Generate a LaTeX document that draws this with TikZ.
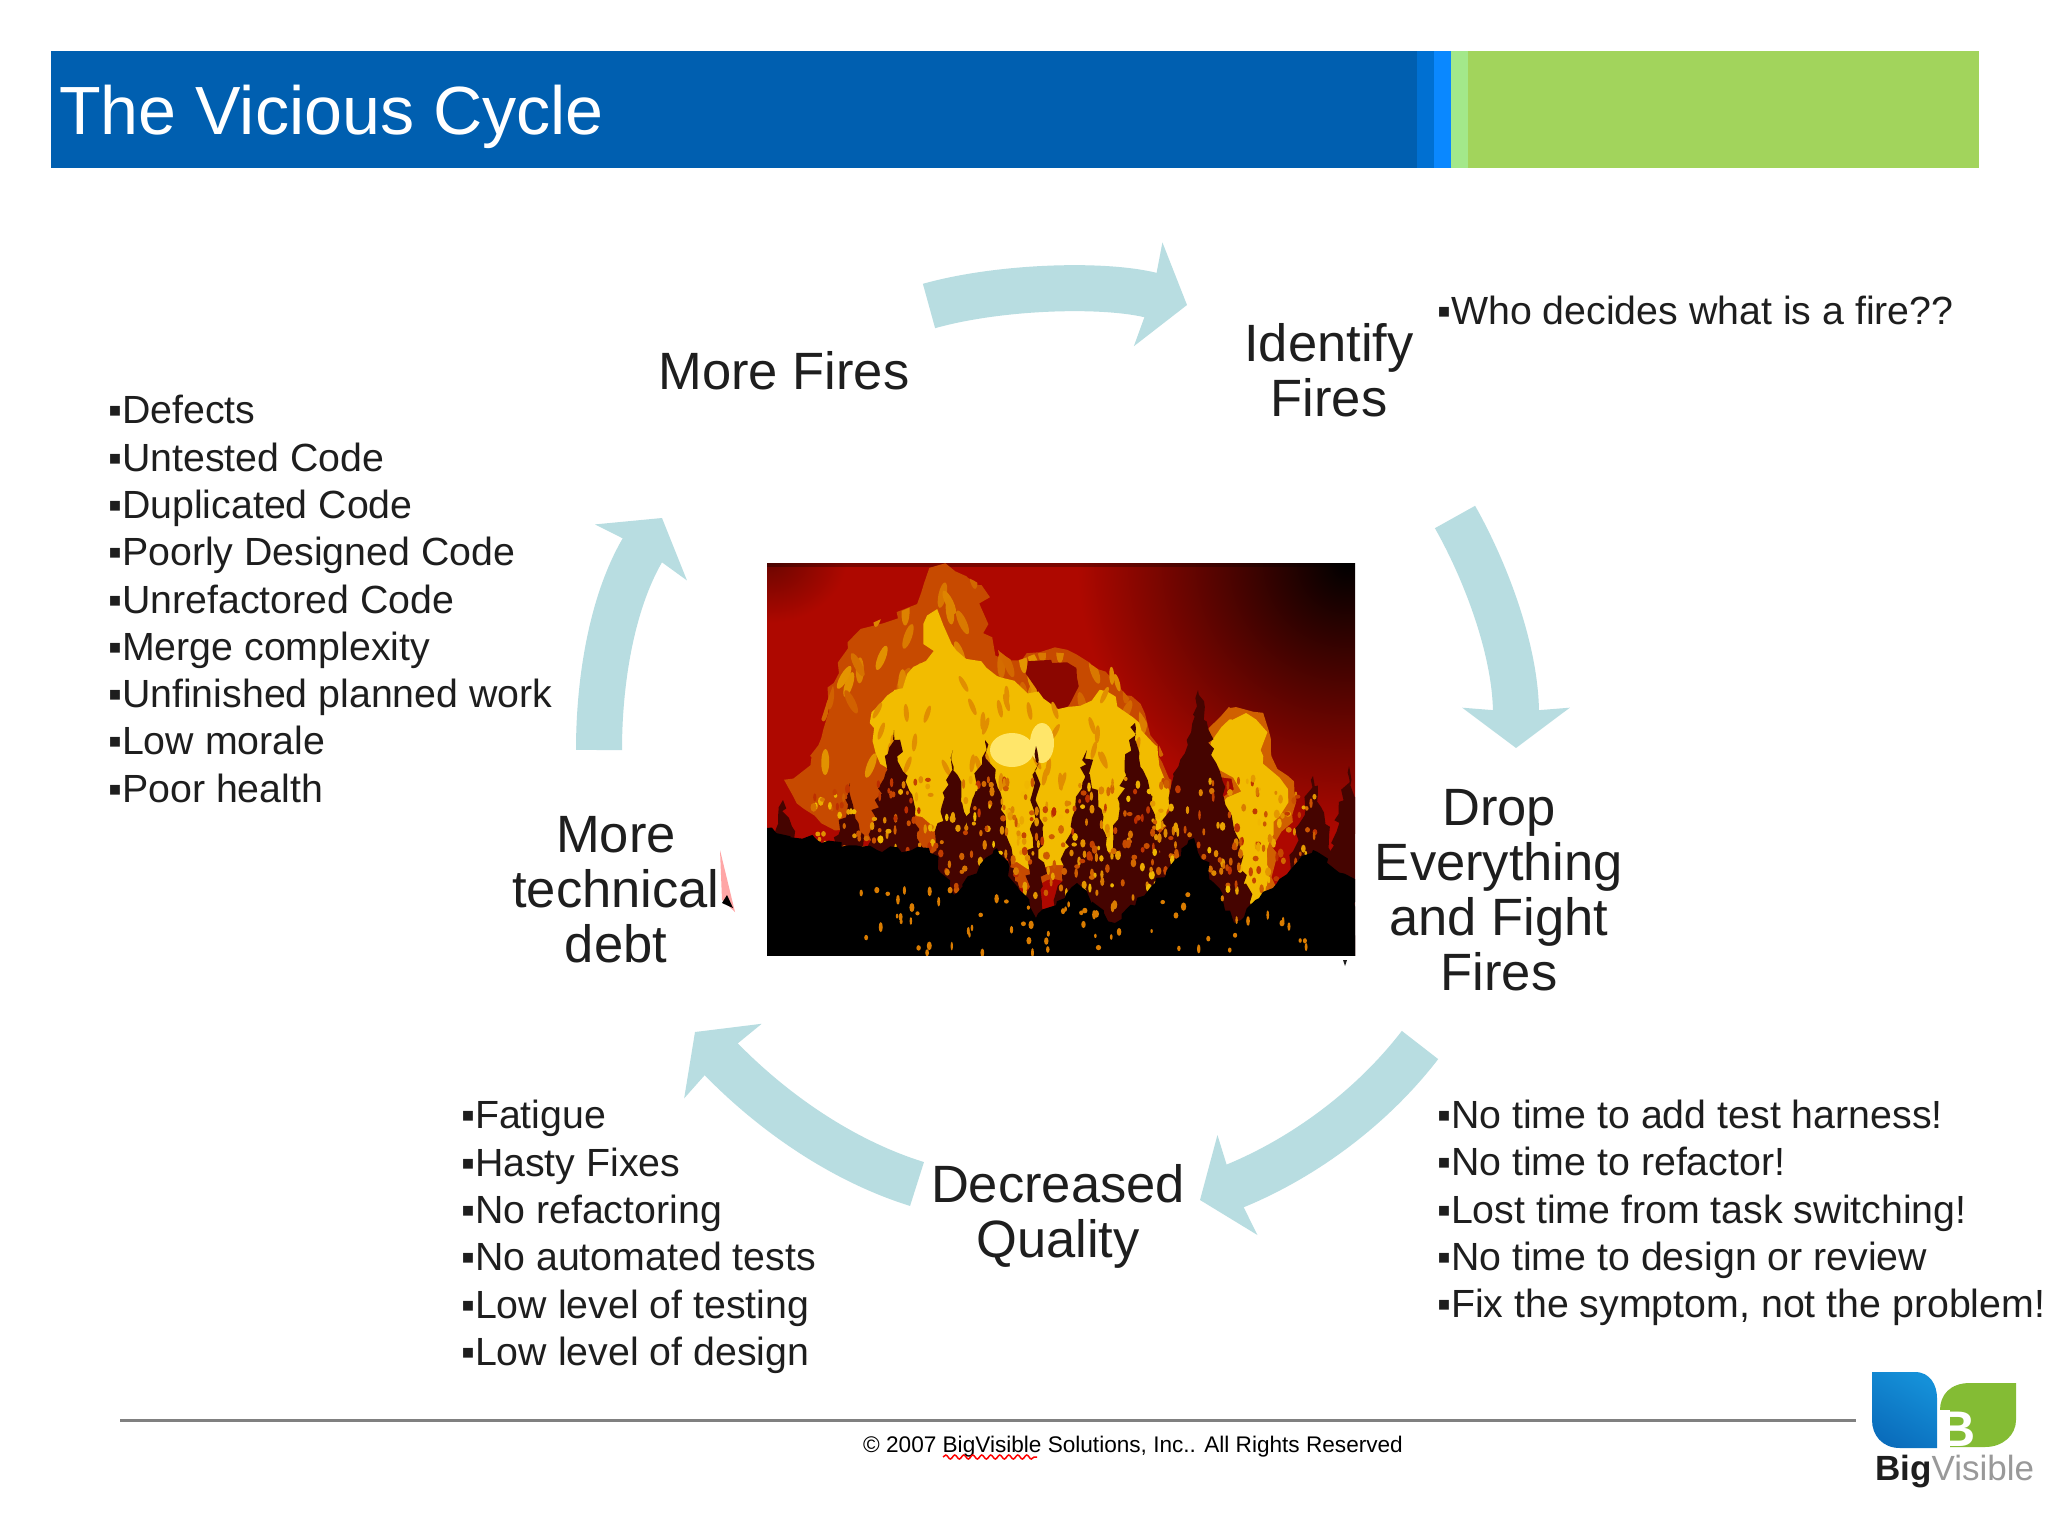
\documentclass[tikz,border=0pt]{standalone}
\usepackage{fontspec}
\setmainfont{Liberation Sans}
\usetikzlibrary{arrows.meta,decorations.pathmorphing,shapes.geometric}
\definecolor{barblue}{HTML}{005FB0}
\definecolor{barmid}{HTML}{0070D2}
\definecolor{barbright}{HTML}{0A88FF}
\definecolor{barpale}{HTML}{A3E88A}
\definecolor{bargreen}{HTML}{A2D45C}
\definecolor{cycleteal}{HTML}{B8DDE1}
\definecolor{inktext}{HTML}{1E1E1E}
\definecolor{firered}{HTML}{AE0800}
\definecolor{fireorange}{HTML}{D06000}
\definecolor{fireyellow}{HTML}{F2BC00}
\definecolor{firepale}{HTML}{FFE66A}
\definecolor{treedark}{HTML}{450400}
\definecolor{leafblue}{HTML}{1590D8}
\definecolor{leafdeep}{HTML}{0A6DBC}
\definecolor{leafgreen}{HTML}{84BC34}
\tikzset{
        cyclelabel/.style={align=center,text=inktext,font=\fontsize{52.5}{55}\selectfont},
        bulletlist/.style={anchor=west,align=left,text=inktext,font=\fontsize{39.3}{47.3}\selectfont},
        cyclearrow/.style={draw=cycleteal,line width=46pt,-{Stealth[length=40pt,width=106pt,inset=4pt]}},
        jagged/.style={decorate,decoration={random steps,segment length=7pt,amplitude=4pt}},
        wispy/.style={decorate,decoration={random steps,segment length=11pt,amplitude=6pt}},
}
\begin{document}
\begin{tikzpicture}[x=1pt,y=-1pt]
        \tikzstyle{every node}+=[inner sep=0pt]
        \useasboundingbox (0,0) rectangle (2048,1536);
        \fill [white] (0,0) rectangle (2048,1536);
        \fill [barblue] (51,51) rectangle (1417,168);
        \fill [barmid] (1417,51) rectangle (1434,168);
        \fill [barbright] (1434,51) rectangle (1451,168);
        \fill [barpale] (1451,51) rectangle (1468,168);
        \fill [bargreen] (1468,51) rectangle (1979,168);
        \node (title) [anchor=west,text=white,font=\fontsize{68.2}{70}\selectfont] at (59,117) {The Vicious Cycle};
        \begin{scope}[shift={(767,563)}]
                \clip (0,0) rectangle (588,392);
                \fill [firered] (0,0) rectangle (588,392);
                \shade [inner color=black,outer color=firered] (310,-270) rectangle (850,270);
                \shade [inner color=firered!60!black,outer color=firered] (-80,-70) rectangle (80,60);
                \fill [black,opacity=.3] (0,0) rectangle (588,4);
                \pgfmathsetseed{2007}
                \fill [fireorange!75!firered,wispy] plot [smooth cycle] coordinates {(30,240) (43,193) (67,120) (95,67) (150,40) (166,7) (214,23) (218,70) (245,97) (273,90) (309,93) (348,120) (380,160) (404,217) (400,300) (200,320)};
                \begin{scope}
                        \clip plot [smooth cycle] coordinates {(30,240) (43,193) (67,120) (95,67) (150,40) (166,7) (214,23) (218,70) (245,97) (273,90) (309,93) (348,120) (380,160) (404,217) (400,300) (200,320)};
                        \foreach \i in {1,...,110} {
                                \pgfmathsetmacro{\sx}{30+rnd*370}
                                \pgfmathsetmacro{\sy}{10+rnd*200}
                                \pgfmathsetmacro{\sa}{60+rnd*60}
                                \pgfmathsetmacro{\sm}{rnd*60}
                                \fill [fireyellow!\sm!fireorange,rotate around={\sa:(\sx,\sy)}] (\sx,\sy) ellipse (13 and 4);
                        }
                \end{scope}
                \fill [firered!80!black,wispy] plot [smooth cycle] coordinates {(261,110) (285,100) (309,115) (300,140) (278,143)};
                \fill [fireyellow,wispy] plot [smooth cycle] coordinates {(103,160) (127,127) (158,97) (162,53) (190,87) (230,113) (261,130) (301,143) (340,130) (372,160) (392,203) (400,240) (368,287) (230,303) (150,253)};
                \begin{scope}
                        \clip (90,90) rectangle (400,260);
                        \foreach \i in {1,...,40} {
                                \pgfmathsetmacro{\sx}{110+rnd*270}
                                \pgfmathsetmacro{\sy}{110+rnd*110}
                                \pgfmathsetmacro{\sa}{60+rnd*60}
                                \fill [fireorange!50!fireyellow,rotate around={\sa:(\sx,\sy)}] (\sx,\sy) ellipse (9 and 2.5);
                        }
                \end{scope}
                \fill [fireorange,wispy] plot [smooth cycle] coordinates {(435,180) (463,145) (495,152) (505,193) (520,213) (528,240) (510,290) (500,350) (462,360) (445,250) (465,225) (440,200)};
                \fill [fireyellow,wispy] plot [smooth cycle] coordinates {(447,178) (465,157) (488,160) (497,193) (512,215) (518,240) (500,287) (492,340) (468,345) (456,253) (472,227) (450,200)};
                \fill [firepale] (245,187) ellipse (22 and 17);
                \fill [firepale] (275,180) ellipse (12 and 20);
                \foreach \tx/\ty/\tw in {16/237/45,83/220/40,127/167/55,186/187/40,218/177/50,269/183/12,320/187/45,368/160/45,431/127/70,546/213/50,582/203/40}
                        \fill [treedark,jagged] (\tx,\ty) -- (\tx+\tw,400) -- (\tx-\tw,400) -- cycle;
                \foreach \i in {1,...,480} {
                        \pgfmathsetmacro{\sx}{40+rnd*510}
                        \pgfmathsetmacro{\sy}{215+rnd*120}
                        \pgfmathsetmacro{\sm}{20+rnd*80}
                        \fill [fireyellow!\sm!firered] (\sx,\sy) ellipse (1.3+rnd*1.8 and 2+rnd*3);
                }
                \fill [black,jagged] (0,265) -- (50,277) -- (110,287) -- (162,285) -- (190,330) -- (230,285) -- (269,355) -- (310,320) -- (348,360) -- (388,320) -- (427,275) -- (467,360) -- (506,325) -- (546,287) -- (588,320) -- (600,400) -- (-10,400) -- cycle;
                \foreach \i in {1,...,70} {
                        \pgfmathsetmacro{\sx}{90+rnd*450}
                        \pgfmathsetmacro{\sy}{325+rnd*65}
                        \fill [fireorange!70!fireyellow] (\sx,\sy) ellipse (1.2+rnd*1.5 and 2+rnd*3);
                }
        \end{scope}
        \fill [inktext] (1343,960) -- (1347,960) -- (1345,966) -- cycle;
        \node (morefires) [cyclelabel] at (784,371) {More Fires};
        \node (identify) [cyclelabel] at (1329,370) {Identify\\Fires};
        \node (dropall) [cyclelabel] at (1499,890) {Drop\\Everything\\and Fight\\Fires};
        \node (quality) [cyclelabel] at (1058,1216) {Decreased\\Quality};
        \node (techdebt) [cyclelabel] at (616,890) {More\\technical\\debt};
        \fill [red!35!white] (720,850) -- (735,912) -- (722,900) -- cycle;
        \fill [black] (727,895) -- (733,908) -- (722,903) -- cycle;
        \coordinate (firesfrom) at (929,306);
        \coordinate (firesto) at (1187,305);
        \coordinate (dropfrom) at (1455,517);
        \coordinate (dropto) at (1516,748);
        \coordinate (qualityfrom) at (1420,1045);
        \coordinate (qualityto) at (1200,1200);
        \coordinate (debtfrom) at (917,1184);
        \coordinate (debtto) at (695,1032);
        \coordinate (morefrom) at (599,750);
        \coordinate (moreto) at (662,518);
        \draw [cyclearrow] (firesfrom) .. controls (1000,286) and (1107,283) .. (firesto);
        \draw [cyclearrow] (dropfrom) .. controls (1485,570) and (1516,650) .. (dropto);
        \draw [cyclearrow] (qualityfrom) .. controls (1370,1110) and (1300,1160) .. (qualityto);
        \draw [cyclearrow] (debtfrom) .. controls (840,1160) and (770,1110) .. (debtto);
        \draw [cyclearrow] (morefrom) .. controls (599,680) and (612,600) .. (moreto);
        \node (firelist) [bulletlist] at (108,599) {▪Defects\\▪Untested Code\\▪Duplicated Code\\▪Poorly Designed Code\\▪Unrefactored Code\\▪Merge complexity\\▪Unfinished planned work\\▪Low morale\\▪Poor health};
        \node (whodecides) [bulletlist] at (1437,310) {▪Who decides what is a fire??};
        \node (tiredlist) [bulletlist] at (461,1237) {▪Fatigue\\▪Hasty Fixes\\▪No refactoring\\▪No automated tests\\▪Low level of testing\\▪Low level of design};
        \node (notimelist) [bulletlist] at (1437,1213) {▪No time to add test harness!\\▪No time to refactor!\\▪Lost time from task switching!\\▪No time to design or review\\▪Fix the symptom, not the problem!};
        \draw [gray,line width=3pt] (120,1420) -- (1856,1420);
        \node (copyright) [anchor=west,text=black,font=\fontsize{22.6}{24}\selectfont] at (863,1447) {© 2007 BigVisible Solutions, Inc.. All Rights Reserved};
        \draw [red,line width=1.5pt,decorate,decoration={snake,segment length=9pt,amplitude=2pt}] (943,1457) -- (1037,1457);
        \shade [top color=leafblue,bottom color=leafdeep,shading angle=-30] (1872,1372) -- (1915,1372) .. controls (1930,1372) and (1937,1385) .. (1937,1398) -- (1937,1448) -- (1900,1448) .. controls (1882,1448) and (1872,1435) .. (1872,1420) -- cycle;
        \fill [leafgreen] (2016,1383) -- (1970,1383) .. controls (1950,1383) and (1940,1395) .. (1940,1410) -- (1940,1447) -- (1985,1447) .. controls (2003,1447) and (2016,1435) .. (2016,1420) -- cycle;
        \fill [white] (1940,1410) rectangle (1950,1449);
        \node (logob) [text=white,font=\bfseries\fontsize{50}{50}\selectfont] at (1958,1429) {B};
        \node (logotext) [anchor=base west,font=\fontsize{35}{36}\selectfont] at (1875,1480) {\textcolor{inktext}{\bfseries Big}\textcolor{gray!80}{Visible}};
        \end{tikzpicture}
\end{document}
